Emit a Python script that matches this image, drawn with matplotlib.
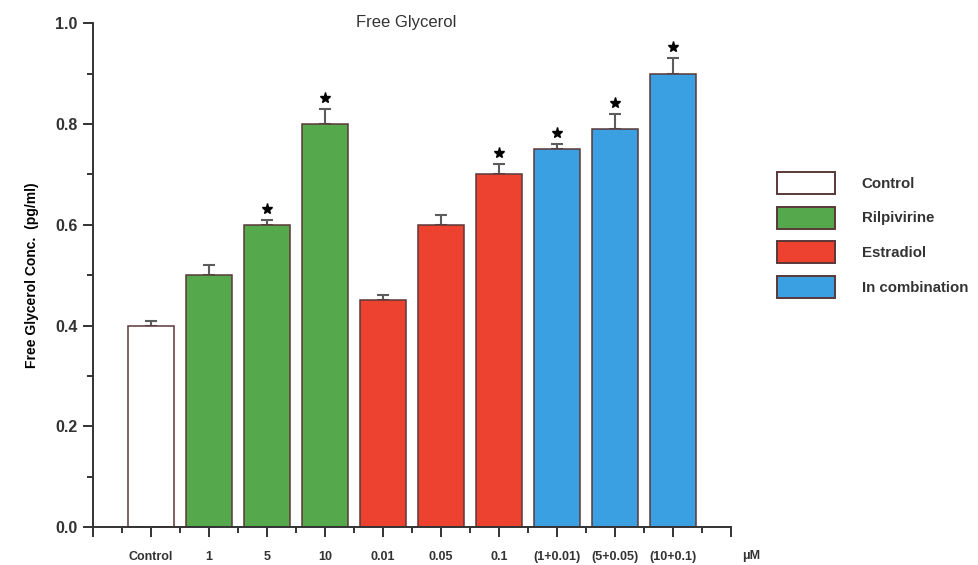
import numpy as np
import matplotlib
matplotlib.use("Agg")
import matplotlib.pyplot as plt
from matplotlib.patches import Patch

# data
labels = ["Control", "1", "5", "10", "0.01", "0.05", "0.1",
          "(1+0.01)", "(5+0.05)", "(10+0.1)"]
groups = ["Control", "Rilpivirine", "Rilpivirine", "Rilpivirine",
          "Estradiol", "Estradiol", "Estradiol",
          "In combination", "In combination", "In combination"]
values = [0.40, 0.50, 0.60, 0.80, 0.45, 0.60, 0.70, 0.75, 0.79, 0.90]
errors = [0.01, 0.02, 0.01, 0.03, 0.01, 0.02, 0.02, 0.01, 0.03, 0.03]
significant = [False, False, True, True, False, False, True, True, True, True]

group_names = ["Control", "Rilpivirine", "Estradiol", "In combination"]
group_colors = {"Control": "white", "Rilpivirine": "#55a84c",
                "Estradiol": "#ee4230", "In combination": "#3aa0e2"}
edge = "#5a3838"

plt.rcParams['font.family'] = ['Liberation Sans', 'DejaVu Sans']

fig = plt.figure(figsize=(9.79, 5.65), dpi=100)
ax = fig.add_axes([0.095, 0.067, 0.652, 0.892])

x = np.arange(1, len(values) + 1)
colors = [group_colors[g] for g in groups]
ax.bar(x, values, width=0.8, color=colors, edgecolor=edge, linewidth=1.1, zorder=2)
ax.errorbar(x, values, yerr=[np.zeros(len(errors)), errors], fmt="none",
            ecolor="#5c5c5c", elinewidth=1.5, capsize=4.5, capthick=1.5, zorder=1)

# significance stars
for xi, v, e, s in zip(x, values, errors, significant):
    if s:
        ax.plot(xi, v + e + 0.022, marker="*", color="black", markersize=8)

ax.set_xlim(0, 11)
ax.set_ylim(0, 1.0)
ax.set_xticks(np.arange(0, 12))
ax.set_xticklabels([""] + labels + [""], fontsize=9, fontweight="bold", color="#333333")
ax.set_xticks(np.arange(0.5, 11, 1), minor=True)
ax.set_yticks(np.arange(0, 1.01, 0.2))
ax.set_yticklabels([f"{t:.1f}" for t in np.arange(0, 1.01, 0.2)],
                   fontsize=11.5, fontweight="bold", color="#333333")
ax.set_yticks(np.arange(0.1, 1.0, 0.2), minor=True)
ax.tick_params(which="major", length=7, width=1.4, direction="out", colors="#333333")
ax.tick_params(which="minor", length=4, width=1.4, direction="out", colors="#333333")
ax.tick_params(axis="x", pad=10)
ax.tick_params(axis="y", pad=4)

for s in ["top", "right"]:
    ax.spines[s].set_visible(False)
for s in ["left", "bottom"]:
    ax.spines[s].set_linewidth(1.4)
    ax.spines[s].set_color("#333333")

ax.text(11.19, -0.057, "μM", fontsize=9, fontweight="bold", color="#333333",
        ha="left", va="center", clip_on=False)

ax.set_ylabel("Free Glycerol Conc.  (pg/ml)", fontsize=10, fontweight="bold",
              color="black", labelpad=12)
ax.set_title("Free Glycerol", fontsize=12, color="#333333", x=0.49, y=0.975)

handles = [Patch(facecolor=group_colors[g], edgecolor=edge, linewidth=1.4) for g in group_names]
fig.legend(handles, group_names, loc="upper left", bbox_to_anchor=(0.786, 0.709),
           frameon=False, prop={"size": 10.8, "weight": "bold"},
           handlelength=3.85, handleheight=1.88, labelspacing=0.85, handletextpad=1.8,
           borderpad=0, labelcolor="#333333")

fig.savefig("out.png", dpi=100)
